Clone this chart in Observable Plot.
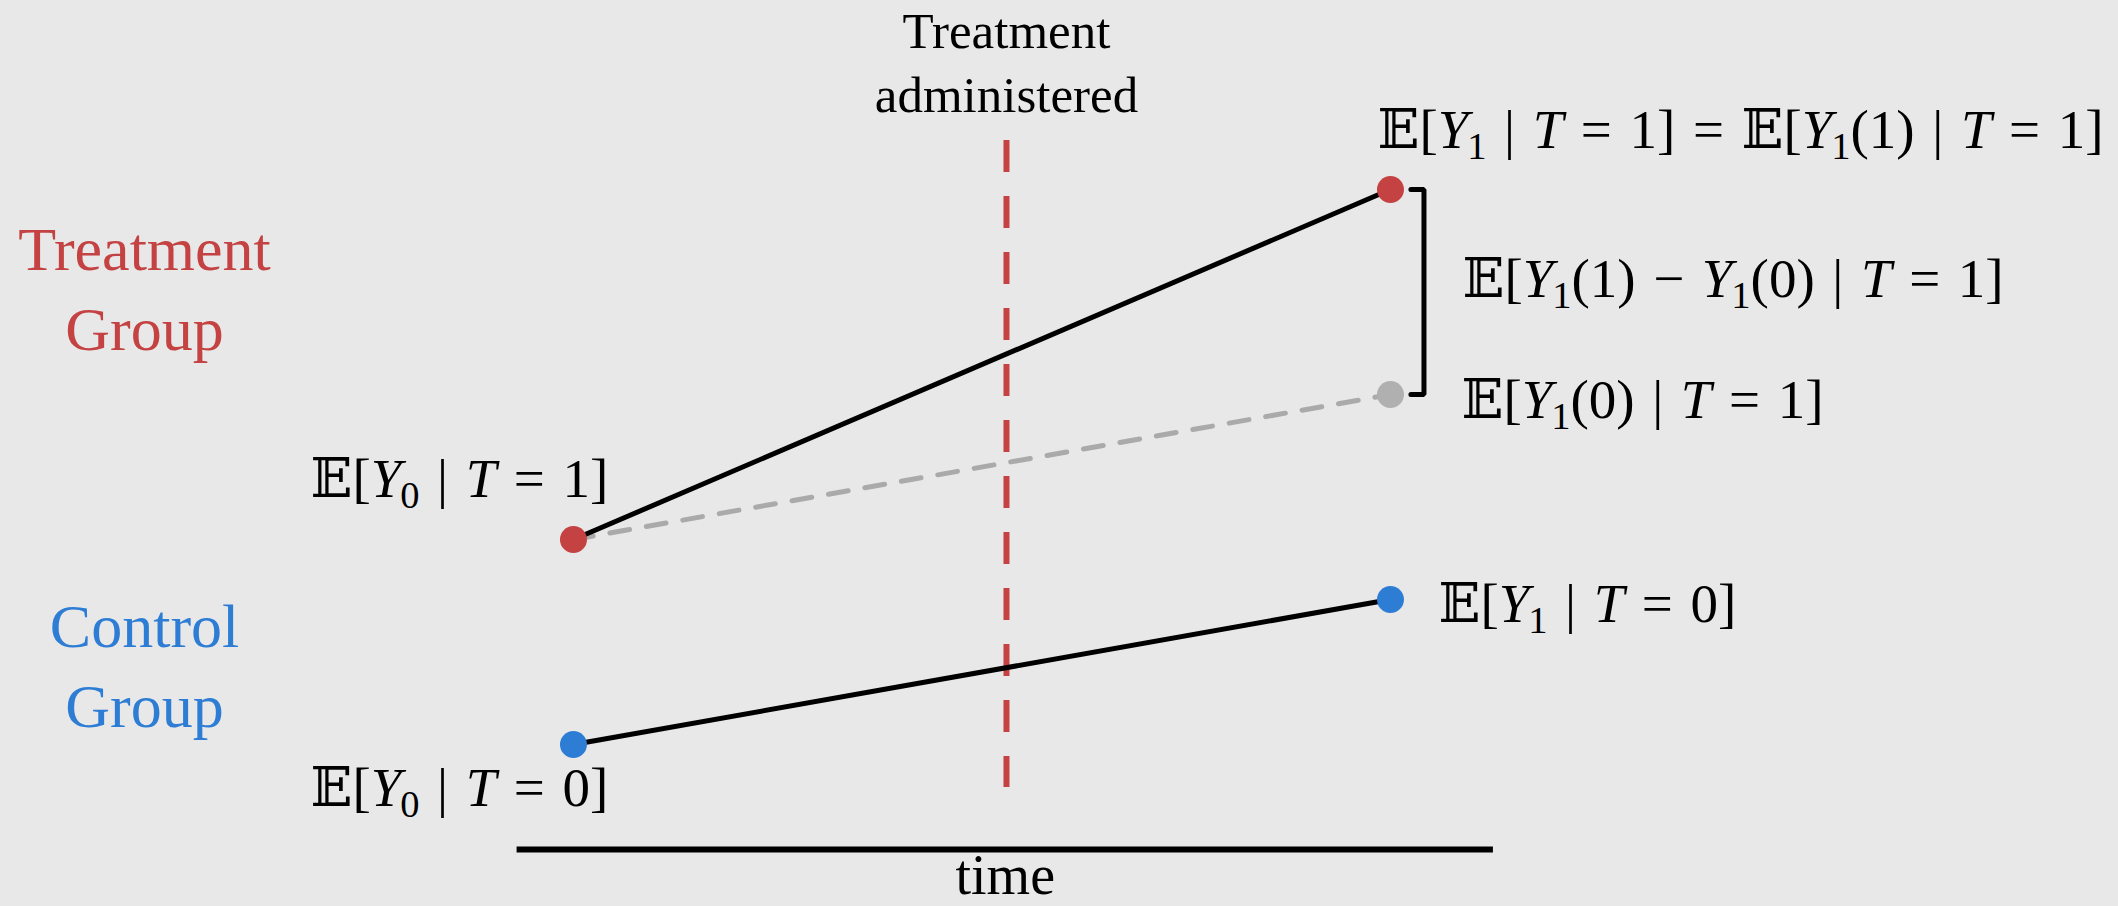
<!DOCTYPE html>
<html><head><meta charset="utf-8">
<script src="https://cdn.jsdelivr.net/npm/d3@7"></script>
<script src="https://cdn.jsdelivr.net/npm/@observablehq/plot@0.6"></script>
<style>
html,body{margin:0;padding:0;background:#e8e8e8;}
#chart{width:2118px;height:906px;overflow:hidden;}
</style></head><body><div id="chart"></div>
<script>
// ---- data ----
const periodTime = [0, 1];              // before, after
const treatmentTime = 0.53;             // treatment administered
const timeAxisExtent = [-0.069, 1.126];
const treatedObserved = [6.2, 13.2];    // E[Y0|T=1], E[Y1|T=1]
const treatedCounterfactual = [6.2, 9.1]; // E[Y0|T=1], E[Y1(0)|T=1]
const controlObserved = [2.1, 5.0];     // E[Y0|T=0], E[Y1|T=0]
const treatmentRuleExtent = [1.24, 14.18];
const groupLabels = ["Treatment\nGroup", "Control\nGroup"];
const groupLabelY = [10.0, 2.46];
const groupLabelX = -0.525;
const mathLabels = {
  treatedPre: "𝔼[Y_0 | T = 1]",
  controlPre: "𝔼[Y_0 | T = 0]",
  treatedPost: "𝔼[Y_1 | T = 1] = 𝔼[Y_1(1) | T = 1]",
  effect: "𝔼[Y_1(1) − Y_1(0) | T = 1]",
  counterfactual: "𝔼[Y_1(0) | T = 1]",
  controlPost: "𝔼[Y_1 | T = 0]"
};
const axisLabel = "time";
const treatmentLabel = "Treatment\nadministered";

// ---- build ----
const RED = "#c44242", BLUE = "#2e7dd5", GRAY = "#aaaaaa", GRAYPT = "#b0b0b0";
const toPts = ys => ys.map((y, i) => ({x: periodTime[i], y}));
const bracketX = [1.025, 1.041];
const bracket = [
  {x: bracketX[0], y: treatedObserved[1]}, {x: bracketX[1], y: treatedObserved[1]},
  {x: bracketX[1], y: treatedCounterfactual[1]}, {x: bracketX[0], y: treatedCounterfactual[1]}
];
const MATH = 55;
const mathText = (label, px, py, dx, dy) =>
  Plot.text([label], {x: px, y: py, text: d => d, dx, dy, textAnchor: "start", lineAnchor: "bottom", fontSize: MATH, fill: "black"});

const chart = Plot.plot({
  width: 2118, height: 906, margin: 0,
  x: {domain: [-0.7013, 1.8911], range: [0, 2118], axis: null},
  y: {domain: [-1.14, 16.98], range: [906, 0], axis: null},
  style: {background: "#e8e8e8", fontFamily: "Liberation Serif", overflow: "visible"},
  marks: [
    Plot.ruleY([0], {x1: timeAxisExtent[0], x2: timeAxisExtent[1], stroke: "black", strokeWidth: 6}),
    Plot.text([axisLabel], {x: (timeAxisExtent[0] + timeAxisExtent[1]) / 2, y: 0, dy: 44, text: d => d, lineAnchor: "bottom", fontSize: 56, fill: "black"}),
    Plot.ruleX([treatmentTime], {y1: treatmentRuleExtent[1], y2: treatmentRuleExtent[0], stroke: RED, strokeWidth: 6, strokeDasharray: "32,24"}),
    Plot.text([treatmentLabel], {x: treatmentTime, y: treatmentRuleExtent[1], dy: -29, text: d => d, lineAnchor: "bottom", lineHeight: 1.25, fontSize: 51, fill: "black"}),
    Plot.line(toPts(treatedCounterfactual), {x: "x", y: "y", stroke: GRAY, strokeWidth: 5, strokeDasharray: "20,17"}),
    Plot.line(toPts(treatedObserved), {x: "x", y: "y", stroke: "black", strokeWidth: 5}),
    Plot.line(toPts(controlObserved), {x: "x", y: "y", stroke: "black", strokeWidth: 5}),
    Plot.line(bracket, {x: "x", y: "y", stroke: "black", strokeWidth: 5, strokeLinejoin: "miter"}),
    Plot.dot(toPts(treatedObserved), {x: "x", y: "y", r: 13.5, fill: RED}),
    Plot.dot([toPts(treatedCounterfactual)[1]], {x: "x", y: "y", r: 13.5, fill: GRAYPT}),
    Plot.dot(toPts(controlObserved), {x: "x", y: "y", r: 13.5, fill: BLUE}),
    Plot.text([groupLabels[0]], {x: groupLabelX, y: groupLabelY[0], text: d => d, lineAnchor: "bottom", lineHeight: 1.283, fontSize: 62, fill: RED}),
    Plot.text([groupLabels[1]], {x: groupLabelX, y: groupLabelY[1], text: d => d, lineAnchor: "bottom", lineHeight: 1.283, fontSize: 62, fill: BLUE}),
    mathText(mathLabels.treatedPre, periodTime[0], treatedObserved[0], -263, -43),
    mathText(mathLabels.controlPre, periodTime[0], controlObserved[0], -263, 61),
    mathText(mathLabels.treatedPost, periodTime[1], treatedObserved[1], -13, -42),
    mathText(mathLabels.effect, periodTime[1], (treatedObserved[1] + treatedCounterfactual[1]) / 2, 72, 5),
    mathText(mathLabels.counterfactual, periodTime[1], treatedCounterfactual[1], 71, 23),
    mathText(mathLabels.controlPost, periodTime[1], controlObserved[1], 48, 22)
  ]
});
document.getElementById("chart").appendChild(chart);

// typeset the math labels with italic variables and subscripts
const NS = "http://www.w3.org/2000/svg";
d3.select(chart).selectAll("text").each(function () {
  const el = this;
  const s = el.textContent;
  if (!s.includes("𝔼")) return;
  while (el.firstChild) el.removeChild(el.firstChild);
  const chars = Array.from(s);
  let dx = 0, dy = 0;
  const add = (str, style) => {
    const t = document.createElementNS(NS, "tspan");
    t.textContent = str;
    if (dx) t.setAttribute("dx", dx);
    if (dy) t.setAttribute("dy", dy);
    dx = 0; dy = 0;
    for (const k in style) t.setAttribute(k, style[k]);
    el.appendChild(t);
  };
  for (let i = 0; i < chars.length; i++) {
    const c = chars[i];
    if (c === " ") { dx += MATH * 0.32; continue; }
    if (c === "_") {
      const sub = chars[++i];
      dy += MATH * 0.2;
      dx -= MATH * 0.02;
      add(sub, {"font-size": MATH * 0.7});
      dy -= MATH * 0.2;
      continue;
    }
    if (c === "Y" || c === "T") { add(c, {"font-style": "italic"}); continue; }
    if (c === "𝔼") { add(c, {"font-family": "DejaVu Serif, DejaVu Sans"}); continue; }
    add(c, {});
  }
});
</script></body></html>
